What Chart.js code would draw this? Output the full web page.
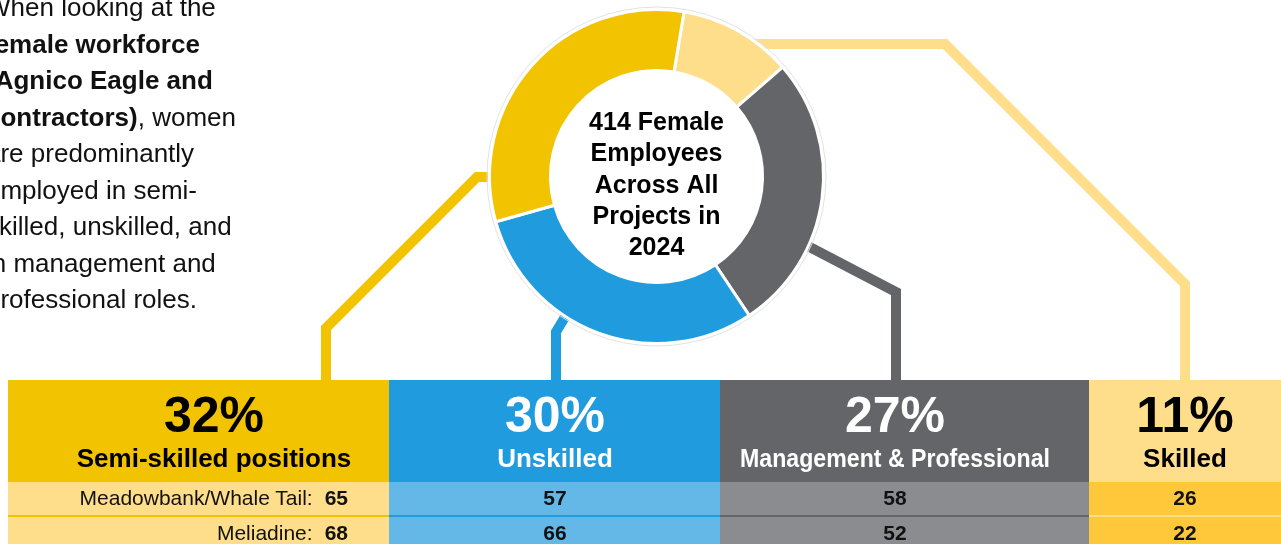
<!DOCTYPE html>
<html>
<head>
<meta charset="utf-8">
<script src="https://cdn.jsdelivr.net/npm/chart.js"></script>
<style>
  body {
    margin: 0;
    width: 1281px;
    height: 544px;
    overflow: hidden;
    background: #fff;
    position: relative;
    font-family: "Liberation Sans", Arial, sans-serif;
  }
  #wrap { position: absolute; left: 0; top: 0; width: 1281px; height: 544px; }
  .intro {
    position: absolute; left: -14px; top: -11px;
    font-size: 26px; line-height: 36.5px; color: #111;
    white-space: nowrap;
  }
  .box { position: absolute; }
  .txt { position: absolute; white-space: nowrap; text-align: center; }
</style>
</head>
<body>
<div id="wrap"><canvas id="ring"></canvas></div>

<div class="intro">
  When looking at the<br>
  <b>female workforce<br>(Agnico Eagle and<br>contractors)</b>, women<br>
  are predominantly<br>
  employed in semi-<br>
  skilled, unskilled, and<br>
  in management and<br>
  professional roles.
</div>

<div id="table"></div>

<script>
// data, left to right as in the table
const categories = ['Semi-skilled positions', 'Unskilled', 'Management & Professional', 'Skilled'];
const shares = [32, 30, 27, 11];
const sites = ['Meadowbank/Whale Tail', 'Meliadine'];
const meadowbankWhaleTail = [65, 57, 58, 26];
const meliadine = [68, 66, 52, 22];
const centerLines = ['414 Female', 'Employees', 'Across All', 'Projects in', '2024'];

// styles
const headColors = ['#F2C300', '#1F9BDE', '#636569', '#FEDE8A'];
const rowColors = ['#FEDE8A', '#63B8E8', '#8B8C90', '#FEC83A'];
const sepColors = ['#F2C300', '#1F9BDE', '#636569', '#FEDE8A'];
const headInk = ['#000', '#fff', '#fff', '#000'];
const FONT = '"Liberation Sans", Arial, sans-serif';

// layout of the table
const colEdges = [8, 389, 720, 1089, 1281];
const textCenters = [214, 555, 895, 1185];
const tableTop = 380, headH = 102, rowH = 33, sepH = 2;

const table = document.getElementById('table');
function add(cls, css, html) {
  const d = document.createElement('div');
  d.className = cls;
  Object.assign(d.style, css);
  if (html !== undefined) d.innerHTML = html;
  table.appendChild(d);
  return d;
}

const rows = [meadowbankWhaleTail, meliadine];
categories.forEach((cat, i) => {
  const left = colEdges[i], w = colEdges[i + 1] - left;
  add('box', { left: left + 'px', top: tableTop + 'px', width: w + 'px', height: headH + 'px', background: headColors[i] });
  rows.forEach((r, k) => {
    const top = tableTop + headH + k * (rowH + sepH);
    if (k > 0) add('box', { left: left + 'px', top: (top - sepH) + 'px', width: w + 'px', height: sepH + 'px', background: sepColors[i] });
    add('box', { left: left + 'px', top: top + 'px', width: w + 'px', height: (k === rows.length - 1 ? 40 : rowH) + 'px', background: rowColors[i] });
  });

  const cx = textCenters[i];
  add('txt', { left: (cx - 200) + 'px', top: '390px', width: '400px', font: 'bold 50px/50px ' + FONT, color: headInk[i] }, shares[i] + '%');
  const lab = add('txt', { left: (cx - 200) + 'px', top: '445px', width: '400px', font: 'bold 26px/26px ' + FONT, color: headInk[i] }, cat.replace('&', '&amp;'));
  if (i === 2) lab.style.transform = 'scaleX(0.89)'; // narrow lettering in this column

  rows.forEach((r, k) => {
    const top = 487 + k * 35;
    if (i === 0) {
      add('txt', { left: '0px', top: top + 'px', width: '348px', textAlign: 'right', font: '21px/21px ' + FONT, color: '#111' },
        sites[k] + ':<b style="margin-left:12px">' + r[i] + '</b>');
    } else {
      add('txt', { left: (cx - 50) + 'px', top: top + 'px', width: '100px', font: 'bold 21px/21px ' + FONT, color: '#111' }, r[i]);
    }
  });
});

// connector lines from the ring down to each column
const connectorPaths = [
  [[496, 177], [477, 177], [326, 328], [326, 386]],
  [[568, 312], [556, 332], [556, 386]],
  [[802, 243], [896, 292], [896, 386]],
  [[748, 44], [945, 44], [1185, 284], [1185, 386]]
];

const connectors = {
  id: 'connectors',
  beforeDatasetsDraw(chart) {
    const ctx = chart.ctx;
    ctx.save();
    ctx.lineWidth = 10;
    ctx.lineJoin = 'miter';
    connectorPaths.forEach((p, i) => {
      ctx.strokeStyle = headColors[i];
      ctx.beginPath();
      p.forEach(([x, y], j) => j ? ctx.lineTo(x, y) : ctx.moveTo(x, y));
      ctx.stroke();
    });
    ctx.restore();
  }
};

const centerText = {
  id: 'centerText',
  afterDatasetsDraw(chart) {
    const arc = chart.getDatasetMeta(0).data[0];
    const ctx = chart.ctx;
    ctx.save();
    // faint outline round the ring
    ctx.strokeStyle = '#e2e2e2';
    ctx.lineWidth = 1;
    ctx.beginPath();
    ctx.arc(arc.x, arc.y, arc.outerRadius + 2.5, 0, Math.PI * 2);
    ctx.stroke();

    ctx.fillStyle = '#000';
    ctx.font = 'bold 25px ' + FONT;
    ctx.textAlign = 'center';
    ctx.textBaseline = 'alphabetic';
    centerLines.forEach((t, i) => ctx.fillText(t, arc.x, arc.y - 46.5 + i * 31.25));
    ctx.restore();
  }
};

new Chart(document.getElementById('ring'), {
  type: 'doughnut',
  data: {
    labels: categories.slice().reverse(),
    datasets: [{
      data: shares.slice().reverse(),
      backgroundColor: headColors.slice().reverse(),
      borderColor: '#fff',
      borderWidth: 3
    }]
  },
  options: {
    responsive: true,
    maintainAspectRatio: false,
    animation: false,
    rotation: 9.5,
    cutout: '63.5%',
    layout: { padding: { left: 488, top: 8, right: 456, bottom: 199 } },
    plugins: {
      legend: { display: false },
      tooltip: { enabled: false }
    }
  },
  plugins: [connectors, centerText]
});
</script>
</body>
</html>
